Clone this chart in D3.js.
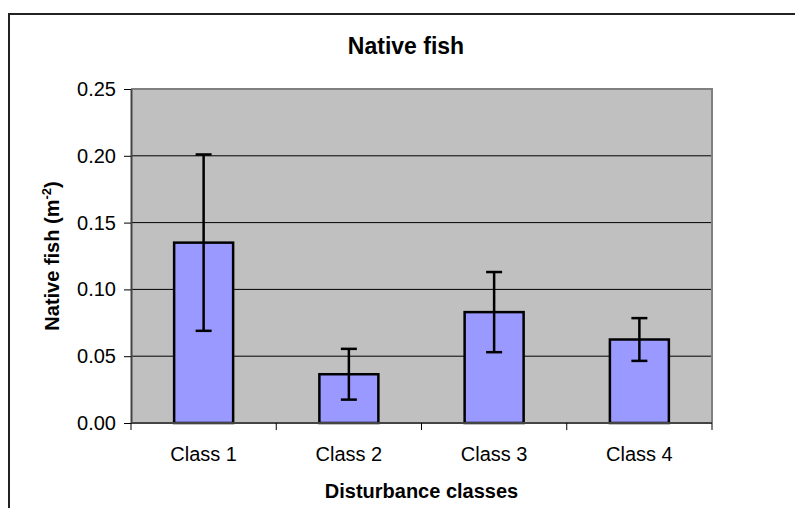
<!DOCTYPE html>
<html>
<head>
<meta charset="utf-8">
<script src="https://cdn.jsdelivr.net/npm/d3@7"></script>
<style>
  body { margin: 0; background: #fff; }
  text { font-family: "Liberation Sans", Arial, sans-serif; }
</style>
</head>
<body>
<div id="chart"></div>
<script>
const classes = ["Class 1", "Class 2", "Class 3", "Class 4"];
const means = [0.135, 0.0365, 0.083, 0.0625];
const errors = [0.066, 0.019, 0.030, 0.016];
const yTicks = [0, 0.05, 0.10, 0.15, 0.20, 0.25];

const margin = { top: 89, right: 83, bottom: 85, left: 131 },
  width = 795 - margin.left - margin.right,
  height = 508 - margin.top - margin.bottom;

const root = d3
  .select("#chart")
  .append("svg")
  .attr("width", 795)
  .attr("height", 508);

// outer chart border (runs past right/bottom edges)
root
  .append("rect")
  .attr("x", 9)
  .attr("y", 14)
  .attr("width", 820)
  .attr("height", 520)
  .attr("fill", "none")
  .attr("stroke", "#222")
  .attr("stroke-width", 2);

const svg = root
  .append("g")
  .attr("transform", `translate(${margin.left}, ${margin.top})`);

const xb = d3.scaleBand().domain(classes).range([0, width]);
const y = d3.scaleLinear().domain([0, 0.25]).range([height, 0]);

svg
  .append("rect")
  .attr("width", width)
  .attr("height", height)
  .attr("fill", "#c0c0c0");

svg
  .append("g")
  .selectAll("line")
  .data(yTicks.slice(1, -1))
  .join("line")
  .attr("x1", 0)
  .attr("x2", width)
  .attr("y1", (d) => y(d))
  .attr("y2", (d) => y(d))
  .attr("stroke", "#000")
  .attr("stroke-width", 1);

// plot area border top/right
svg
  .append("path")
  .attr("d", `M0,0H${width}V${height}`)
  .attr("fill", "none")
  .attr("stroke", "#808080")
  .attr("stroke-width", 2);

svg
  .append("g")
  .selectAll("rect")
  .data(classes)
  .join("rect")
  .attr("x", (d) => xb(d) + (xb.bandwidth() - 59) / 2)
  .attr("width", 59)
  .attr("y", (d, i) => y(means[i]))
  .attr("height", (d, i) => height - y(means[i]))
  .attr("fill", "#9999ff")
  .attr("stroke", "#000")
  .attr("stroke-width", 2.5);

const eb = svg
  .append("g")
  .selectAll("g")
  .data(classes)
  .join("g")
  .attr("transform", (d) => `translate(${xb(d) + xb.bandwidth() / 2},0)`);
eb.append("line")
  .attr("y1", (d, i) => y(means[i] + errors[i]))
  .attr("y2", (d, i) => y(means[i] - errors[i]))
  .attr("stroke", "#000")
  .attr("stroke-width", 2.5);
eb.append("line")
  .attr("x1", -8)
  .attr("x2", 8)
  .attr("y1", (d, i) => y(means[i] + errors[i]))
  .attr("y2", (d, i) => y(means[i] + errors[i]))
  .attr("stroke", "#000")
  .attr("stroke-width", 2.5);
eb.append("line")
  .attr("x1", -8)
  .attr("x2", 8)
  .attr("y1", (d, i) => y(means[i] - errors[i]))
  .attr("y2", (d, i) => y(means[i] - errors[i]))
  .attr("stroke", "#000")
  .attr("stroke-width", 2.5);

// y axis
const yAxis = svg
  .append("g")
  .call(d3.axisLeft(y).tickValues(yTicks).tickFormat(d3.format(".2f")).tickSize(7).tickSizeOuter(0).tickPadding(8));
yAxis.select(".domain").attr("stroke", "#444").attr("stroke-width", 2);
yAxis.selectAll(".tick line").attr("stroke", "#000");
yAxis.selectAll("text").attr("font-size", 20).attr("fill", "#000");

// x axis with boundary ticks
const xAxisG = svg.append("g").attr("transform", `translate(0, ${height})`);
xAxisG
  .append("line")
  .attr("x1", 0)
  .attr("x2", width)
  .attr("stroke", "#444")
  .attr("stroke-width", 2);
xAxisG
  .selectAll("line.tk")
  .data(classes.map((d) => xb(d)).concat([width]))
  .join("line")
  .attr("class", "tk")
  .attr("x1", (d) => d)
  .attr("x2", (d) => d)
  .attr("y1", 0)
  .attr("y2", 7)
  .attr("stroke", "#000");
xAxisG
  .selectAll("text")
  .data(classes)
  .join("text")
  .attr("x", (d) => xb(d) + xb.bandwidth() / 2)
  .attr("y", 38)
  .attr("text-anchor", "middle")
  .attr("font-size", 20)
  .text((d) => d);

svg
  .append("text")
  .attr("x", width / 2)
  .attr("y", height + 75)
  .attr("text-anchor", "middle")
  .attr("font-size", 20)
  .attr("font-weight", "bold")
  .text("Disturbance classes");

root
  .append("text")
  .attr("x", 406)
  .attr("y", 54)
  .attr("text-anchor", "middle")
  .attr("font-size", 23)
  .attr("font-weight", "bold")
  .text("Native fish");

const yl = root
  .append("text")
  .attr("transform", `translate(59, 256) rotate(-90)`)
  .attr("text-anchor", "middle")
  .attr("font-size", 20)
  .attr("font-weight", "bold");
yl.append("tspan").text("Native fish (m");
yl.append("tspan").attr("font-size", 13).attr("dy", -8).text("-2");
yl.append("tspan").attr("dy", 8).text(")");
</script>
</body>
</html>
